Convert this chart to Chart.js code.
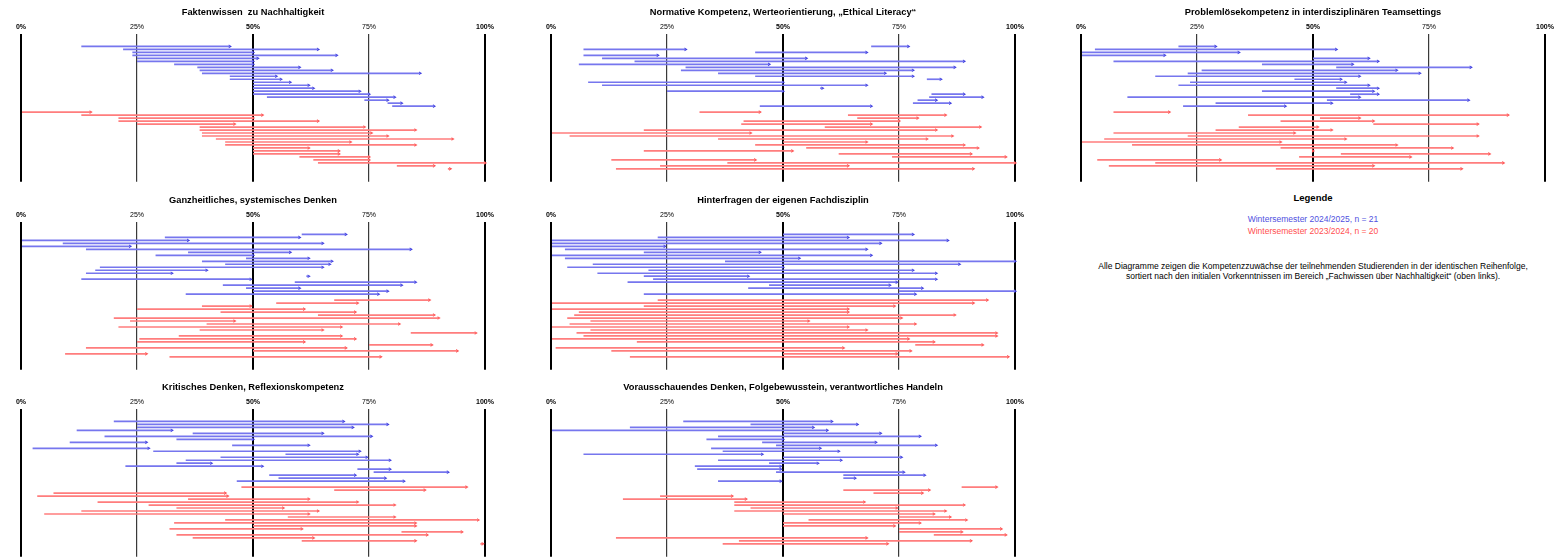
<!DOCTYPE html>
<html>
<head>
<meta charset="utf-8">
<script src="https://cdn.jsdelivr.net/npm/chart.js@4.4.1/dist/chart.umd.min.js"></script>
<style>
  body { margin: 0; background: #fff; width: 1561px; height: 558px; overflow: hidden; position: relative; font-family: "Liberation Sans", Arial, sans-serif; }
  canvas { position: absolute; }
  .txt { position: absolute; left: 1081px; width: 464px; text-align: center; white-space: nowrap; font-size: 8.5px; line-height: 10.6px; }
</style>
</head>
<body>
<div class="txt" style="top:193px;font-weight:bold;font-size:9.5px;">Legende</div>
<div class="txt" style="top:213.5px;color:#5050e0;">Wintersemester 2024/2025, n = 21</div>
<div class="txt" style="top:226px;color:#ff5050;">Wintersemester 2023/2024, n = 20</div>
<div class="txt" style="top:260.5px;color:#000;">Alle Diagramme zeigen die Kompetenzzuwächse der teilnehmenden Studierenden in der identischen Reihenfolge,<br>sortiert nach den initialen Vorkenntnissen im Bereich „Fachwissen über Nachhaltigkeit“ (oben links).</div>
<script>
// [vorher, nachher] in % je Person, Reihenfolge wie im Original
const tickValues = [0, 25, 50, 75, 100];
const panelTitles = [
  'Faktenwissen  zu Nachhaltigkeit',
  'Normative Kompetenz, Werteorientierung, „Ethical Literacy“',
  'Problemlösekompetenz in interdisziplinären Teamsettings',
  'Ganzheitliches, systemisches Denken',
  'Hinterfragen der eigenen Fachdisziplin',
  'Kritisches Denken, Reflexionskompetenz',
  'Vorausschauendes Denken, Folgebewusstein, verantwortliches Handeln'
];

const faktenwissenBlue = [[13,45],[22,64],[24,50],[24,68],[25,51],[25,50],[33,50],[38,60],[38.5,67],[39,86],[45,55],[45,56],[50,58],[50,62],[50,63],[50,73],[50,75],[53,80.5],[74,79],[79,82],[80,89]];
const faktenwissenRed = [[0,15],[13,52],[21,50],[21,64],[25,46],[38.5,74],[38.5,85],[39,75.5],[39,79],[42,93],[44,71],[44,85],[50,62],[50,68.5],[50,68.5],[60,75],[63,75],[64,100],[81,89],[92,92.5]];

const normativBlue = [[69,77],[7,29],[44,68],[7,23],[11,55],[18,89],[6,47],[29,87],[28,78],[36,72],[44,78],[81,84],[8,50],[11,68],[58,58.5],[25,50],[82,89],[81.5,93],[79,83],[78,86],[45,69]];
const normativRed = [[32,45],[64,85],[66,79],[41.5,75],[41,69],[59,92.5],[20,83],[0,43],[4,86.5],[36,81],[50,68],[44,89],[55,92],[20,52],[62,90.5],[73.5,98],[13,44],[38,100],[23.5,64],[14,91]];

const problemBlue = [[21,29],[3,55],[0,34],[0,18],[50,62],[7,64],[39,58.5],[55,84],[26,68],[23,73],[16,60],[46,56],[23.5,57],[21,62],[55,64],[39,63],[58,64],[10,60],[53,83.5],[29,54],[22,44]];
const problemRed = [[7,19],[36,92],[51.5,60],[43,63],[63,85.5],[34,51],[29,54],[7,46],[23,85.5],[5,57],[0,43],[11,68],[43,80],[50,50],[56,88],[47,71],[3.5,30],[16,91],[6,63],[42,82]];

const ganzheitlichBlue = [[60.5,70],[31,60],[0,36],[9,65],[0,23.5],[14,84],[36,58],[29,50],[48.5,62],[39,67],[44,66.5],[17,65],[16,40],[14,32.5],[61.5,62],[13,49.5],[59,85],[43.5,82],[48.5,60],[50,79],[35.5,77]];
const ganzheitlichRed = [[67.5,88],[55,72.5],[39,49.5],[25,61],[43,72],[64,89],[20,90],[23.5,46],[40,81.5],[21,69],[38.5,65],[84,98],[34,69],[25.5,72],[25,61],[75,88.5],[14,70],[50,94],[9.5,27],[32,77.5]];

const hinterfragenBlue = [[50,78],[23,64],[0,85.5],[0,71],[0,24.5],[3,68],[20,45],[0,69],[3,53.5],[37.5,100],[9,88],[3.5,50],[21,78],[10,83],[20,42.5],[22,83],[16.5,74.5],[47,73],[42.5,80],[75,100],[20,78.5]];
const hinterfragenRed = [[23,94],[0,91],[20,74],[0,64],[6,64],[5,87],[3.5,75.5],[8.5,55.5],[4,78.5],[0,64],[8.5,68],[5.5,96],[7,96],[0,77],[18.5,82.5],[78.5,93],[1,63],[13,77.5],[50,74.5],[17,98.5]];

const kritischBlue = [[20,69.5],[25,79],[25,71.5],[12,32.5],[37,65],[18,75.5],[33.5,50],[10.5,27],[45.5,62],[2.5,27.5],[28.5,73],[57,72.5],[43,74.5],[35.5,79.5],[33.5,41],[22.5,52],[72.5,79.5],[76,92],[53.5,72],[55.5,78.5],[46.5,82.5]];
const kritischRed = [[47.5,96],[67.5,87],[7,44],[3.5,44.5],[36,62],[16.5,72.5],[27.5,80.5],[33.5,56.5],[13,64],[5,62],[57.5,80.5],[44,98.5],[33,85],[50,85],[32,60.5],[82,95],[33.5,87.5],[37,63],[60.5,85],[99,99.5]];

const vorausBlue = [[28.5,60.5],[43,66],[17,56.5],[0,59.5],[50,71],[36,79.5],[33.5,50],[45.5,70],[48.5,83],[34.5,58],[37,62],[7,45.5],[50,75.5],[36,62.5],[47,57.5],[31,49.5],[31.5,49.5],[48.5,76],[63,80.5],[63,65.5],[36,49.5]];
const vorausRed = [[88.5,96],[63,81.5],[69.5,80],[23.5,39],[15.5,42],[39.5,67.5],[39.5,89],[43,74.5],[39.5,85],[50,82.5],[75,86],[55.5,89.5],[50,79.5],[50,74],[75,97],[75,88.5],[82.5,98],[14,68],[40.5,90.5],[37,72.5]];

const panels = [
  [faktenwissenBlue, faktenwissenRed],
  [normativBlue, normativRed],
  [problemBlue, problemRed],
  [ganzheitlichBlue, ganzheitlichRed],
  [hinterfragenBlue, hinterfragenRed],
  [kritischBlue, kritischRed],
  [vorausBlue, vorausRed]
];
const spots = [[0,0],[530,0],[1060,0],[0,188],[530,188],[0,375],[530,375]];

const BLUE_LINE = 'rgb(118,118,238)', BLUE_HEAD = 'rgb(60,60,222)';
const RED_LINE = 'rgb(255,125,125)', RED_HEAD = 'rgb(255,78,78)';
const RED_OFFSET = 22; // eine Leerzeile zwischen den Gruppen

panels.forEach(([blue, red], p) => {
  const cv = document.createElement('canvas');
  cv.width = 501; cv.height = 187;
  cv.style.left = spots[p][0] + 'px'; cv.style.top = spots[p][1] + 'px';
  document.body.appendChild(cv);

  const bars = (arr, off, color) => ({
    type: 'bar', indexAxis: 'y', grouped: false, barThickness: 1.7, maxBarThickness: 1.7, inflateAmount: 0,
    data: arr.map((d, i) => ({ x: d, y: i + off })), backgroundColor: color, borderWidth: 0, clip: false
  });
  const heads = (arr, off, color) => ({
    type: 'scatter', pointStyle: 'triangle', rotation: 90, pointRadius: 2.1, borderWidth: 0,
    data: arr.map((d, i) => ({ x: d[1], y: i + off })), backgroundColor: color, clip: false
  });

  new Chart(cv, {
    data: { datasets: [bars(blue, 0, BLUE_LINE), bars(red, RED_OFFSET, RED_LINE), heads(blue, 0, BLUE_HEAD), heads(red, RED_OFFSET, RED_HEAD)] },
    options: {
      responsive: false, animation: false, devicePixelRatio: 1,
      layout: { padding: { left: 21, right: 16, top: 0, bottom: 5.3 } },
      scales: {
        x: {
          type: 'linear', position: 'top', min: 0, max: 100, offset: false,
          afterBuildTicks: ax => { ax.ticks = tickValues.map(v => ({ value: v })); },
          ticks: {
            callback: v => v + '%', color: '#000', padding: 2.5, maxRotation: 0,
            font: c => ({ family: '"Liberation Sans", Arial, sans-serif', size: 7, weight: c.tick && c.tick.value % 50 === 0 ? 'bold' : 'normal' })
          },
          grid: {
            drawTicks: false, offset: false,
            color: c => c.tick && c.tick.value % 50 === 0 ? '#000' : '#3a3a3a',
            lineWidth: c => c.tick && c.tick.value % 50 === 0 ? 2 : 1.2
          },
          border: { display: false }
        },
        y: { type: 'linear', min: -4.3, max: 45.3, reverse: true, display: false, offset: false, grace: 0, bounds: 'data' }
      },
      plugins: {
        legend: { display: false }, tooltip: { enabled: false },
        title: {
          display: true, text: panelTitles[p], color: '#000',
          font: { family: '"Liberation Sans", Arial, sans-serif', size: 9.3, weight: 'bold' },
          padding: { top: 6.5, bottom: 2.5 }
        }
      }
    }
  });
});
</script>
</body>
</html>
